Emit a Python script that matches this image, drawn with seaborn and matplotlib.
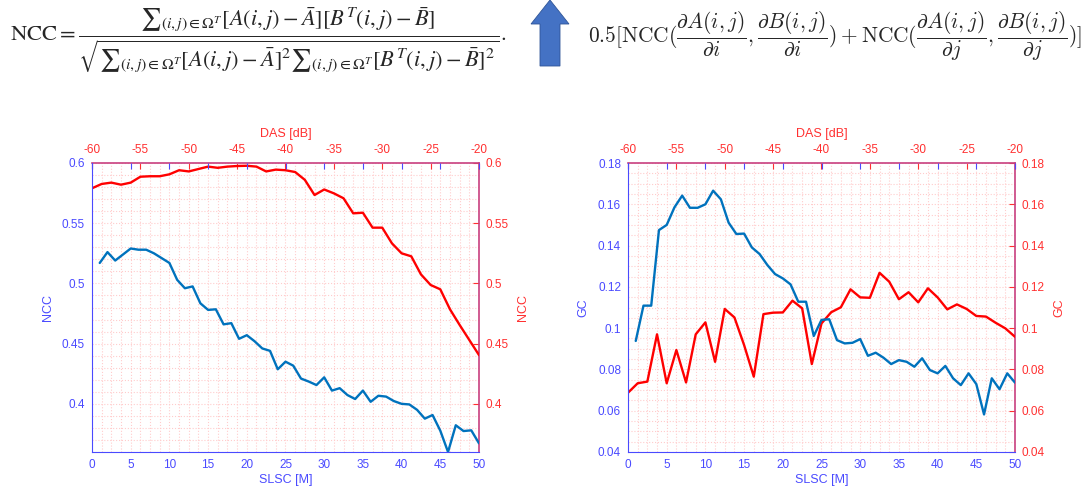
import numpy as np
import pandas as pd
import matplotlib
matplotlib.use("Agg")
import matplotlib.pyplot as plt
import matplotlib.ticker as mticker
from matplotlib.patches import Polygon
import seaborn as sns

# ----------------------------
# Data
# ----------------------------
slsc_m = list(range(1, 51))
das_db = list(range(-60, -19))

ncc_slsc = [0.517, 0.526, 0.519, 0.524, 0.529, 0.528, 0.528, 0.525, 0.521, 0.517,
            0.503, 0.496, 0.4975, 0.4835, 0.478, 0.4785, 0.466, 0.467, 0.454, 0.457,
            0.452, 0.446, 0.444, 0.4287, 0.435, 0.4317, 0.421, 0.4185, 0.4156, 0.422,
            0.411, 0.413, 0.4073, 0.404, 0.411, 0.4017, 0.4067, 0.406, 0.4023, 0.400,
            0.3995, 0.395, 0.3877, 0.3907, 0.3777, 0.360, 0.3822, 0.3774, 0.378, 0.3672]

ncc_das = [0.579, 0.5826, 0.5837, 0.582, 0.5837, 0.5886, 0.589, 0.589, 0.5906, 0.594,
           0.593, 0.595, 0.597, 0.596, 0.597, 0.5975, 0.5977, 0.597, 0.593, 0.5945,
           0.594, 0.5925, 0.586, 0.5734, 0.578, 0.5748, 0.5707, 0.5582, 0.5587, 0.5463,
           0.5463, 0.5333, 0.525, 0.5225, 0.5075, 0.4987, 0.4951, 0.4785, 0.4655, 0.453,
           0.4405]

gc_slsc = [0.0938, 0.1109, 0.1109, 0.1475, 0.150, 0.1585, 0.1642, 0.1583, 0.1583, 0.160,
           0.1666, 0.1624, 0.1511, 0.1456, 0.1458, 0.1391, 0.1359, 0.1306, 0.1262, 0.1241,
           0.1212, 0.1128, 0.1128, 0.0962, 0.104, 0.1043, 0.0942, 0.0926, 0.0929, 0.0947,
           0.0866, 0.0881, 0.0857, 0.0826, 0.0845, 0.0837, 0.0813, 0.0854, 0.0797, 0.0781,
           0.0817, 0.0757, 0.0724, 0.0781, 0.0729, 0.0582, 0.0757, 0.0704, 0.0781, 0.0736]

gc_das = [0.0687, 0.0733, 0.0741, 0.097, 0.0733, 0.0894, 0.0737, 0.097, 0.1028, 0.0837,
          0.1093, 0.1052, 0.0918, 0.0765, 0.1068, 0.1075, 0.1076, 0.1133, 0.1096, 0.0826,
          0.1023, 0.1077, 0.1101, 0.1188, 0.1149, 0.1147, 0.1268, 0.1225, 0.114, 0.1174,
          0.1125, 0.1193, 0.1149, 0.1091, 0.1115, 0.1093, 0.1059, 0.1056, 0.1026, 0.0999,
          0.0958]

# ----------------------------
# Style
# ----------------------------
sns.set_style("white")
plt.rcParams['font.family'] = ['Liberation Sans', 'DejaVu Sans']
plt.rcParams['axes.unicode_minus'] = False

BLUE_AX = '#4a4aff'
RED_AX = '#ff3030'
BOX = '#c8407f'
LINE_BLUE = '#0072BD'
LINE_RED = '#ff0000'
GRID = '#ffcccc'

W, H = 1089, 499
fig = plt.figure(figsize=(W / 100, H / 100), dpi=100)


def make_panel(left_px, ylab, ylim, ymajor, yminor, yfmt, y_blue, y_red):
    rect = [left_px / W, (H - 452) / H, 387 / W, 289 / H]
    ax2 = fig.add_axes(rect)
    ax = fig.add_axes(rect, facecolor='none')

    # red: DAS on top / right (drawn first, carries the grid)
    sns.lineplot(x=das_db, y=y_red, ax=ax2, color=LINE_RED, linewidth=1.7, zorder=3)
    ax2.set_xlim(-60, -20)
    ax2.set_ylim(*ylim)
    ax2.xaxis.tick_top()
    ax2.xaxis.set_label_position('top')
    ax2.yaxis.tick_right()
    ax2.yaxis.set_label_position('right')
    ax2.xaxis.set_major_locator(mticker.MultipleLocator(5))
    ax2.xaxis.set_minor_locator(mticker.MultipleLocator(1))
    ax2.yaxis.set_major_locator(mticker.MultipleLocator(ymajor))
    ax2.yaxis.set_minor_locator(mticker.MultipleLocator(yminor))
    ax2.yaxis.set_major_formatter(mticker.FuncFormatter(yfmt))
    ax2.tick_params(axis='both', which='major', direction='in', length=4, width=0.8,
                    colors=RED_AX, labelsize=8.5, pad=5)
    ax2.tick_params(axis='both', which='minor', length=0)
    ax2.set_xlabel('DAS [dB]', color=RED_AX, fontsize=9, labelpad=5)
    ax2.set_ylabel(ylab, color=RED_AX, fontsize=9, labelpad=6)
    ax2.grid(True, which='both', color=GRID, linestyle=':', linewidth=0.8)
    ax2.set_axisbelow(True)
    for s in ('left', 'bottom'):
        ax2.spines[s].set_visible(False)
    for s in ('top', 'right'):
        ax2.spines[s].set_color(BOX)
        ax2.spines[s].set_linewidth(1.2)

    # blue: SLSC on bottom / left
    sns.lineplot(x=slsc_m, y=y_blue, ax=ax, color=LINE_BLUE, linewidth=1.7)
    ax.set_xlim(0, 50)
    ax.set_ylim(*ylim)
    ax.xaxis.set_major_locator(mticker.MultipleLocator(5))
    ax.yaxis.set_major_locator(mticker.MultipleLocator(ymajor))
    ax.yaxis.set_major_formatter(mticker.FuncFormatter(yfmt))
    ax.tick_params(axis='both', direction='in', length=4, width=0.8,
                   colors=BLUE_AX, labelsize=8.5, top=True, right=False, pad=5)
    ax.tick_params(axis='x', labeltop=False)
    ax.set_xlabel('SLSC [M]', color=BLUE_AX, fontsize=9, labelpad=2)
    ax.set_ylabel(ylab, color=BLUE_AX, fontsize=9, labelpad=6)
    ax.spines['left'].set_color(BLUE_AX)
    ax.spines['bottom'].set_color(BLUE_AX)
    ax.spines['top'].set_visible(False)
    ax.spines['right'].set_visible(False)
    return ax, ax2


def fmt_tick(v, pos):
    return ('%.2f' % v).rstrip('0').rstrip('.')


make_panel(92, 'NCC', (0.36, 0.6), 0.05, 0.01, fmt_tick, ncc_slsc, ncc_das)
make_panel(628, 'GC', (0.04, 0.18), 0.02, 0.005, fmt_tick, gc_slsc, gc_das)

# ----------------------------
# Formulas and arrow on top
# ----------------------------
ncc_formula = (r"$\mathrm{NCC}=\dfrac{{\sum}_{(i,j)\in\Omega^T}[A(i,j)-\bar{A}][B^T(i,j)-\bar{B}]}"
               r"{\sqrt{{\sum}_{(i,j)\in\Omega^T}[A(i,j)-\bar{A}]^2{\sum}_{(i,j)\in\Omega^T}[B^T(i,j)-\bar{B}]^2}}.$")
fig.text(10 / W, 1 - 40 / H, ncc_formula, ha='left', va='center', fontsize=16.2,
         math_fontfamily='stix')

gc_formula = (r"$0.5[\mathrm{NCC}(\dfrac{\partial A(i,j)}{\partial i},\dfrac{\partial B(i,j)}{\partial i})"
              r"+\mathrm{NCC}(\dfrac{\partial A(i,j)}{\partial j},\dfrac{\partial B(i,j)}{\partial j})]$")
fig.text(588 / W, 1 - 36 / H, gc_formula, ha='left', va='center', fontsize=15.4,
         math_fontfamily='cm')

arrow_px = [(540, 66), (560, 66), (560, 24), (569, 24), (550, 0), (531, 24), (540, 24)]
fig.patches.append(Polygon([(x / W, 1 - y / H) for x, y in arrow_px], closed=True,
                           transform=fig.transFigure, facecolor='#4472C4',
                           edgecolor='#2f5597', linewidth=0.6))

fig.savefig('out.png', dpi=100)
